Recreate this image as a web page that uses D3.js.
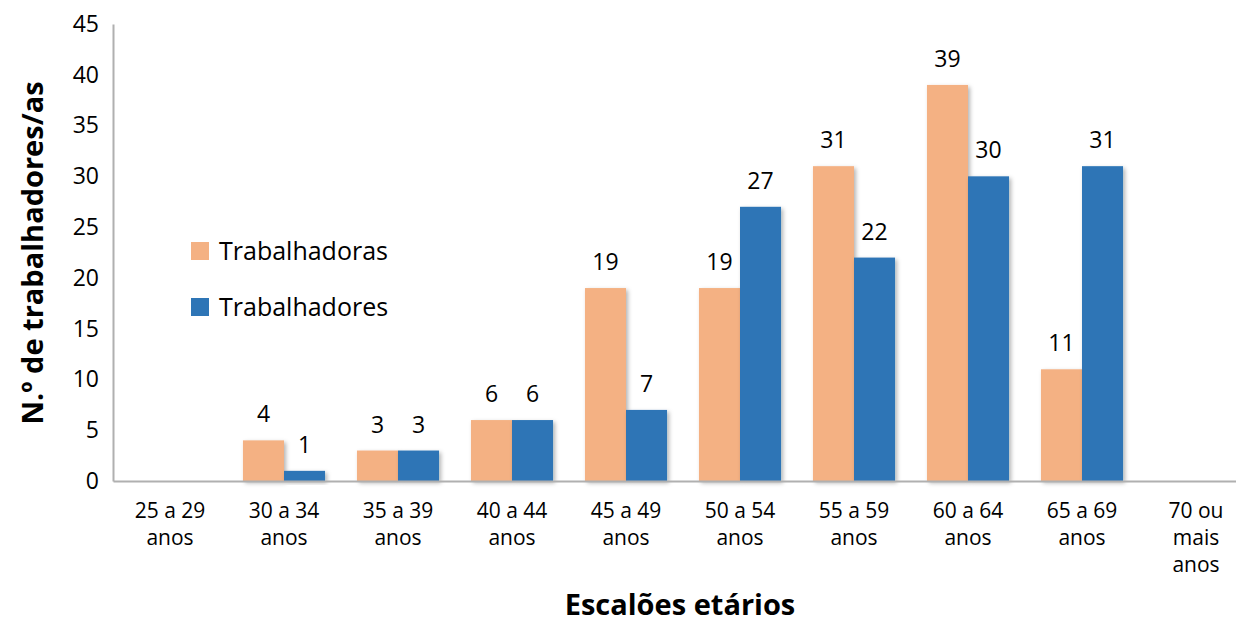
<!DOCTYPE html>
<html>
<head>
<meta charset="utf-8">
<script src="https://cdn.jsdelivr.net/npm/d3@7"></script>
<style>
  html, body { margin: 0; padding: 0; background: #fff; }
  svg text { font-family: "Open Sans", "Liberation Sans", sans-serif; fill: #000; }
</style>
</head>
<body>
<div id="chart"></div>
<script>
// chart data
const categories = [
  ['25 a 29', 'anos'], ['30 a 34', 'anos'], ['35 a 39', 'anos'], ['40 a 44', 'anos'],
  ['45 a 49', 'anos'], ['50 a 54', 'anos'], ['55 a 59', 'anos'], ['60 a 64', 'anos'],
  ['65 a 69', 'anos'], ['70 ou', 'mais', 'anos']
];
const seriesNames = ['Trabalhadoras', 'Trabalhadores'];
const trabalhadoras = [null, 4, 3, 6, 19, 19, 31, 39, 11, null];
const trabalhadores = [null, 1, 3, 6, 7, 27, 22, 30, 31, null];
const yTicks = [0, 5, 10, 15, 20, 25, 30, 35, 40, 45];
const colors = ['#F4B183', '#2E75B6'];

const width = 1236, height = 627;
const svg = d3.select('#chart').append('svg')
  .attr('width', width)
  .attr('height', height);

const defs = svg.append('defs');
const shadow = defs.append('filter').attr('id', 'shadow')
  .attr('x', '-20%').attr('y', '-20%').attr('width', '150%').attr('height', '150%');
shadow.append('feDropShadow')
  .attr('dx', 2).attr('dy', 2).attr('stdDeviation', 2)
  .attr('flood-color', '#000').attr('flood-opacity', 0.3);

const x0 = 113, x1 = 1253, yTop = 24, yBase = 481;

const x = d3.scaleBand()
  .domain(d3.range(categories.length))
  .range([x0, x1])
  .paddingInner(0.28)
  .paddingOuter(0.14);

const xs = d3.scaleBand()
  .domain([0, 1])
  .range([0, x.bandwidth()]);

const y = d3.scaleLinear()
  .domain([0, 45])
  .range([yBase, yTop]);

// y axis
const yAxis = svg.append('g')
  .attr('transform', `translate(${x0},0)`)
  .call(d3.axisLeft(y).tickValues(yTicks).tickSize(0).tickPadding(14));
yAxis.select('.domain').attr('stroke', '#b0b0b0').attr('stroke-width', 2);
yAxis.selectAll('text').style('font-size', '23px').attr('fill', '#000');

// bars
const series = [trabalhadoras, trabalhadores];
series.forEach((vals, si) => {
  const g = svg.append('g');
  const data = vals.map((v, i) => ({ i, v })).filter(d => d.v != null);
  g.selectAll('rect').data(data).join('rect')
    .attr('x', d => x(d.i) + xs(si))
    .attr('y', d => y(d.v))
    .attr('width', xs.bandwidth())
    .attr('height', d => y(0) - y(d.v))
    .attr('fill', colors[si])
    .attr('filter', 'url(#shadow)');
  g.selectAll('text').data(data).join('text')
    .attr('x', d => x(d.i) + xs(si) + xs.bandwidth() / 2)
    .attr('y', d => y(d.v) - 18)
    .attr('text-anchor', 'middle')
    .style('font-size', '23px')
    .text(d => d.v);
});

// x axis line
const xAxis = svg.append('g')
  .attr('transform', `translate(0,${yBase})`)
  .call(d3.axisBottom(x).tickSize(0).tickFormat(''));
xAxis.select('.domain').attr('stroke', '#b0b0b0').attr('stroke-width', 2);

// category labels
svg.append('g').selectAll('text').data(categories).join('text')
  .attr('x', (d, i) => x(i) + x.bandwidth() / 2)
  .attr('y', 518)
  .attr('text-anchor', 'middle')
  .style('font-size', '21px')
  .each(function(lines) {
    d3.select(this).selectAll('tspan').data(lines).join('tspan')
      .attr('x', d3.select(this).attr('x'))
      .attr('dy', (d, k) => k === 0 ? 0 : 27)
      .text(d => d);
  });

// axis titles
svg.append('text')
  .attr('transform', `translate(43,253) rotate(-90)`)
  .attr('text-anchor', 'middle')
  .style('font-size', '29px')
  .style('font-weight', 'bold')
  .text('N.º de trabalhadores/as');

svg.append('text')
  .attr('x', 680)
  .attr('y', 615)
  .attr('text-anchor', 'middle')
  .style('font-size', '29px')
  .style('font-weight', 'bold')
  .text('Escalões etários');

// legend
const legend = svg.append('g');
seriesNames.forEach((name, i) => {
  const ly = 242 + i * 56;
  legend.append('rect')
    .attr('x', 191).attr('y', ly)
    .attr('width', 18).attr('height', 18)
    .attr('fill', colors[i]);
  legend.append('text')
    .attr('x', 219).attr('y', ly + 18)
    .style('font-size', '25px')
    .text(name);
});
</script>
</body>
</html>
